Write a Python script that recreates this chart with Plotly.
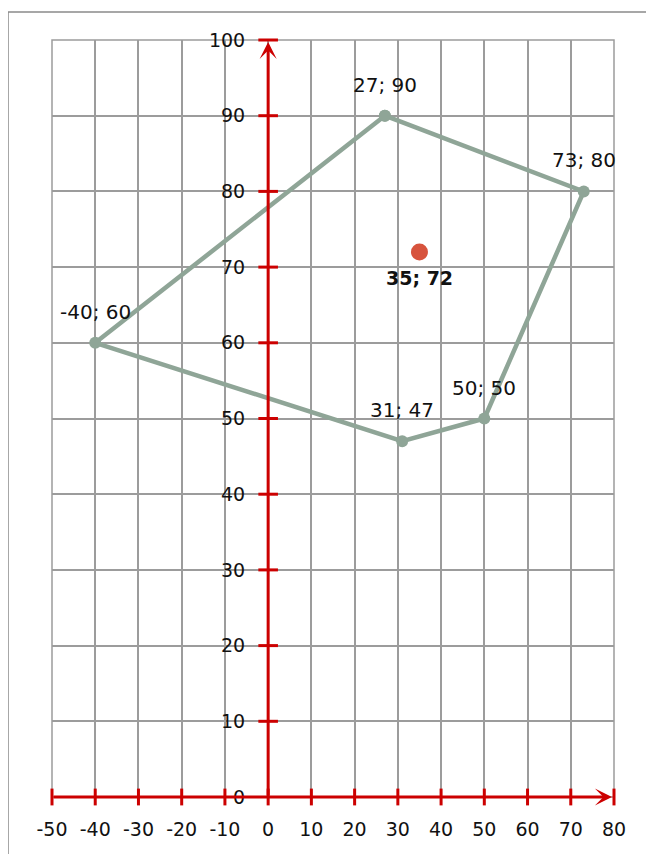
import plotly.graph_objects as go

# ---- data ----
poly_x = [27, 73, 50, 31, -40]
poly_y = [90, 80, 50, 47, 60]
poly_labels = ["27; 90", "73; 80", "50; 50", "31; 47", "-40; 60"]

point_x = [35]
point_y = [72]
point_labels = ["35; 72"]

x_ticks = [-50, -40, -30, -20, -10, 0, 10, 20, 30, 40, 50, 60, 70, 80]
x_tick_text = ["-50", "-40", "-30", "-20", "-10", "0", "10", "20", "30", "40", "50", "60", "70", "80"]
y_ticks = [0, 10, 20, 30, 40, 50, 60, 70, 80, 90, 100]
y_tick_text = ["0", "10", "20", "30", "40", "50", "60", "70", "80", "90", "100"]
x_range = [-50, 80]
y_range = [0, 100]

RED = "#cc0000"
POLY = "#8fa597"
DOT = "#d7533d"
GRID = "#9c9c9c"
FONT = "DejaVu Sans"

fig = go.Figure()

# plot-area border (grid edges)
fig.add_shape(type="rect", xref="x domain", yref="y domain",
              x0=0, x1=1, y0=0, y1=1,
              line=dict(color=GRID, width=1.5), layer="below")

# closed polygon
fig.add_trace(go.Scatter(
    x=poly_x + poly_x[:1], y=poly_y + poly_y[:1],
    mode="lines+markers",
    line=dict(color=POLY, width=4.5),
    marker=dict(color=POLY, size=12),
    cliponaxis=False, hoverinfo="skip", showlegend=False))

# red point
fig.add_trace(go.Scatter(
    x=point_x, y=point_y, mode="markers",
    marker=dict(color=DOT, size=17),
    cliponaxis=False, showlegend=False))

# tick marks crossing the axes
fig.add_trace(go.Scatter(
    x=x_ticks, y=[y_range[0]] * len(x_ticks), mode="markers",
    marker=dict(symbol="line-ns", size=12, line=dict(color=RED, width=3)),
    cliponaxis=False, hoverinfo="skip", showlegend=False))
fig.add_trace(go.Scatter(
    x=[0] * (len(y_ticks) - 1), y=y_ticks[1:], mode="markers",
    marker=dict(symbol="line-ew", size=14, line=dict(color=RED, width=3)),
    cliponaxis=False, hoverinfo="skip", showlegend=False))

# axis arrows
fig.add_annotation(x=x_range[1], y=0, ax=x_range[0], ay=0,
                   xref="x", yref="y", axref="x", ayref="y",
                   showarrow=True, arrowhead=3, arrowsize=0.95, arrowwidth=3,
                   arrowcolor=RED, standoff=2, text="")
fig.add_annotation(x=0, y=y_range[1], ax=0, ay=y_range[0],
                   xref="x", yref="y", axref="x", ayref="y",
                   showarrow=True, arrowhead=3, arrowsize=0.95, arrowwidth=3,
                   arrowcolor=RED, standoff=2, text="")

# data labels
for x, y, t in zip(poly_x, poly_y, poly_labels):
    fig.add_annotation(x=x, y=y, text=t, showarrow=False, yshift=31,
                       font=dict(family=FONT, size=20, color="#111"))
for x, y, t in zip(point_x, point_y, point_labels):
    fig.add_annotation(x=x, y=y, text="<b>" + t + "</b>", showarrow=False,
                       yshift=-26, font=dict(family=FONT, size=19, color="#111"))

# outer frame
fig.add_shape(type="rect", xref="paper", yref="paper",
              x0=-0.0783, x1=1.0694, y0=-0.2, y1=1.037,
              line=dict(color="#8a8a8a", width=1.5), layer="below")

fig.update_layout(
    width=646, height=846,
    margin=dict(l=44, r=40, t=32, b=57, autoexpand=False),
    paper_bgcolor="white", plot_bgcolor="white",
    font=dict(family=FONT, size=19, color="#111"),
    xaxis=dict(range=x_range, tickvals=x_ticks, ticktext=x_tick_text, ticks="",
               showgrid=True, gridcolor=GRID, gridwidth=1.5,
               zeroline=False, showline=False, ticklabelstandoff=19,
               automargin=False,
               tickfont=dict(family=FONT, size=19, color="#111")),
    yaxis=dict(range=y_range, tickvals=y_ticks, ticktext=y_tick_text, ticks="",
               showgrid=True, gridcolor=GRID, gridwidth=1.5,
               zeroline=False, showline=False, automargin=False,
               anchor="free", position=(0 - x_range[0]) / (x_range[1] - x_range[0]),
               ticklabelstandoff=23,
               tickfont=dict(family=FONT, size=19, color="#111")),
)

fig.write_html("out.html")
